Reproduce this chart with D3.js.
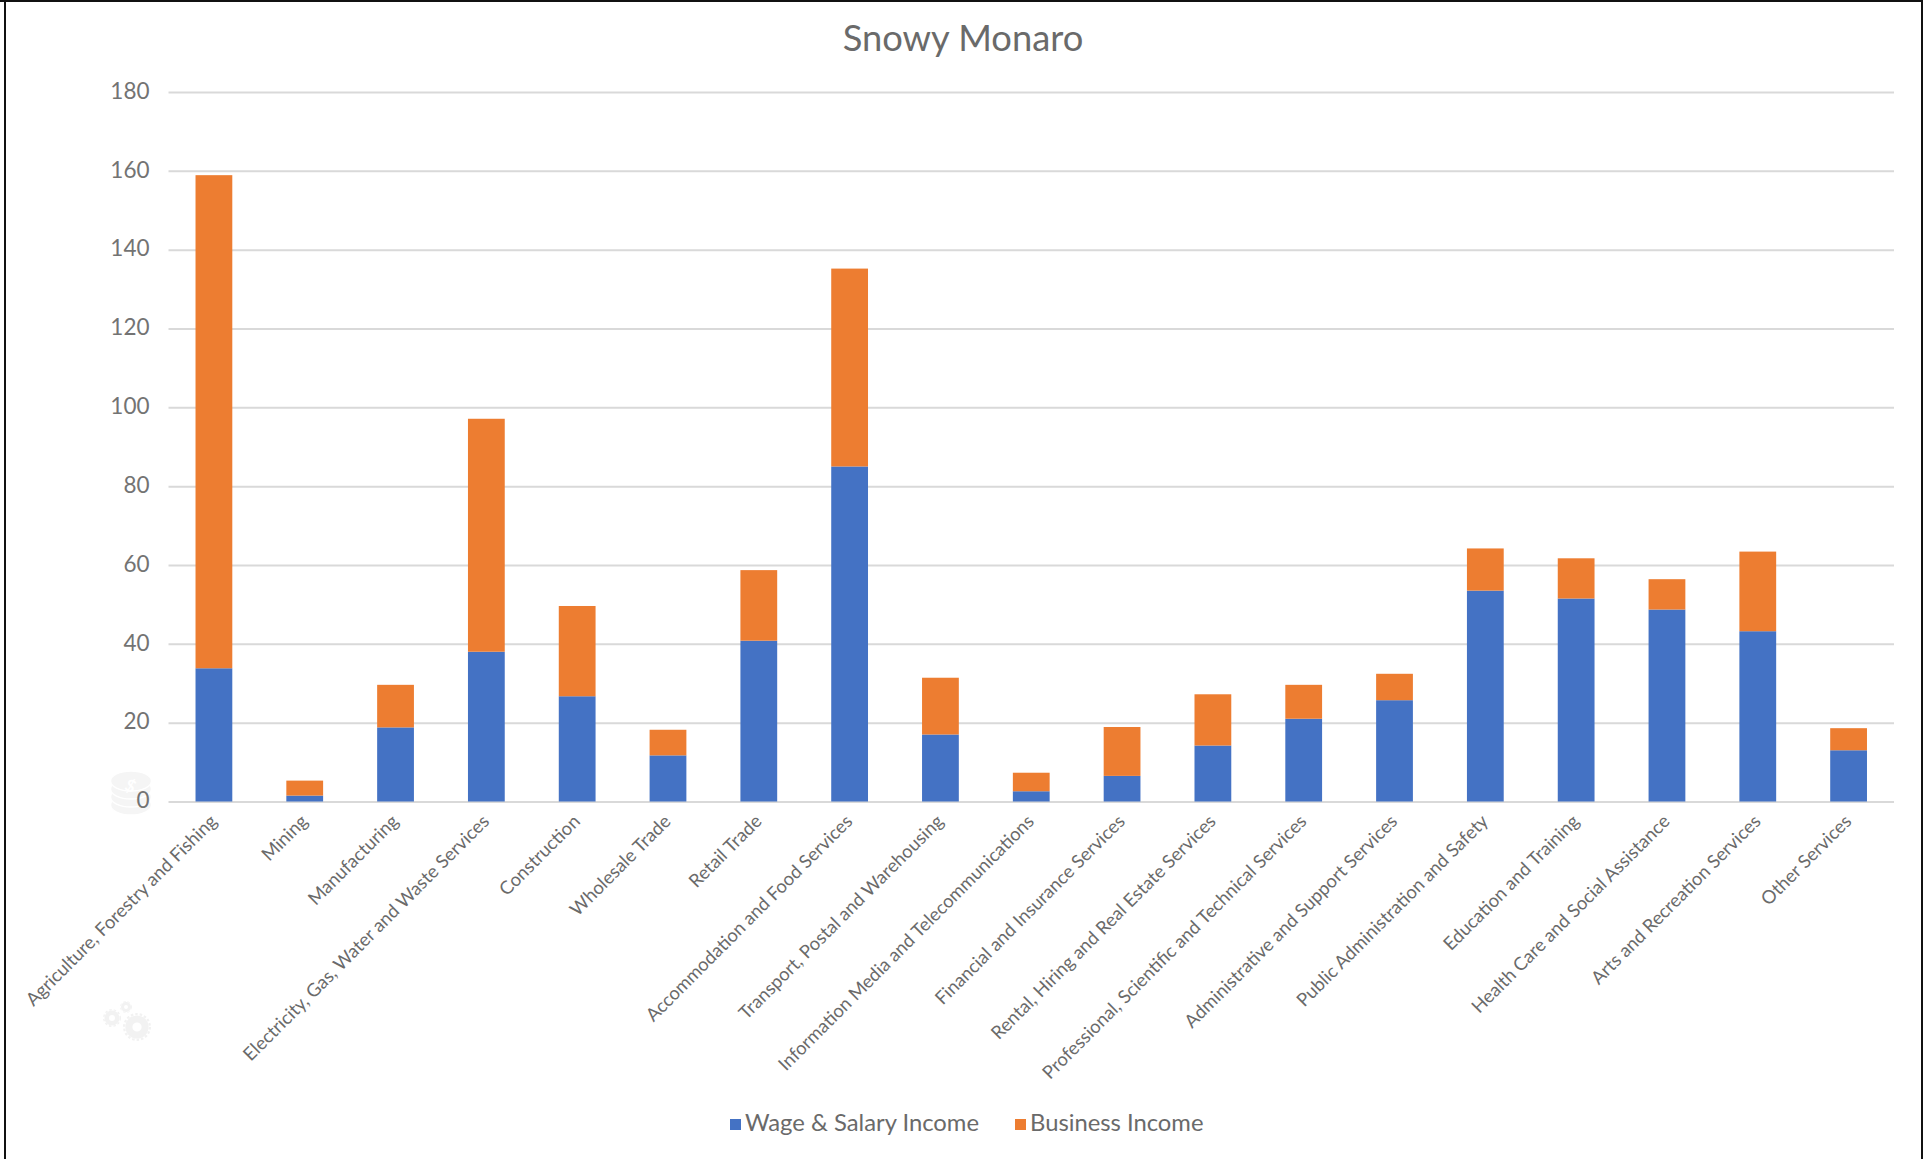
<!DOCTYPE html>
<html><head><meta charset="utf-8"><script src="https://cdn.jsdelivr.net/npm/d3@7"></script>
<style>html,body{margin:0;padding:0;background:#fff}svg{display:block}text{font-family:Lato,"Open Sans",sans-serif;fill:#6a6a6a}</style></head>
<body><svg id="c" width="1923" height="1159"></svg>
<script>
const chartTitle = "Snowy Monaro";
const categories = ["Agriculture, Forestry and Fishing","Mining","Manufacturing","Electricity, Gas, Water and Waste Services","Construction","Wholesale Trade","Retail Trade","Accommodation and Food Services","Transport, Postal and Warehousing","Information Media and Telecommunications","Financial and Insurance Services","Rental, Hiring and Real Estate Services","Professional, Scientific and Technical Services","Administrative and Support Services","Public Administration and Safety","Education and Training","Health Care and Social Assistance","Arts and Recreation Services","Other Services"];
const wageSalary = [33.8,1.5,18.8,38,26.7,11.7,40.8,85,17,2.6,6.5,14.2,21,25.7,53.5,51.5,48.7,43.2,13];
const business = [125.1,3.8,10.8,59.1,22.9,6.5,17.9,50.2,14.4,4.7,12.4,13,8.6,6.7,10.7,10.2,7.7,20.2,5.6];
const seriesNames = ["Wage & Salary Income","Business Income"];
const seriesColors = ["#4472C4","#ED7D31"];
const yTicks = [0,20,40,60,80,100,120,140,160,180];

const svg = d3.select("#c");
const L=168.5,R=1894,T=92,B=801.5;
const x = d3.scaleBand().domain(categories).range([L,R]).paddingInner(0.595).paddingOuter(0.2975);
const y = d3.scaleLinear().domain([0,180]).range([B,T]);

// frame
svg.append("rect").attr("x",0).attr("y",0).attr("width",1923).attr("height",2).attr("fill","#111");
svg.append("rect").attr("x",4).attr("y",0).attr("width",2).attr("height",1159).attr("fill","#111");
svg.append("rect").attr("x",1921).attr("y",0).attr("width",2).attr("height",1159).attr("fill","#111");

// faint decorative icons behind the axis
const wm = svg.append("g");
d3.range(4).forEach(i=>wm.append("ellipse").attr("cx",131).attr("cy",805-i*8).attr("rx",20.5).attr("ry",10).attr("fill","#f5f5f5").attr("stroke","#fff").attr("stroke-width",1.5));
wm.append("text").attr("x",131).attr("y",792).attr("text-anchor","middle").attr("transform","rotate(25 131 785)")
  .style("font-size","17px").style("font-weight","700").style("fill","#fff").text("$");
const gear=(cx,cy,r)=>{const g=wm.append("g");
  g.append("circle").attr("cx",cx).attr("cy",cy).attr("r",r*0.58).attr("fill","none").attr("stroke","#f2f2f2").attr("stroke-width",r*0.5);
  g.append("circle").attr("cx",cx).attr("cy",cy).attr("r",r*0.92).attr("fill","none").attr("stroke","#f2f2f2").attr("stroke-width",r*0.16).attr("stroke-dasharray","2.5 2");};
gear(137,1027,14);gear(112,1018,9);gear(126,1007,6);

// grid and y axis
const yAxis = d3.axisLeft(y).tickValues(yTicks).tickSize(-(R-L)).tickPadding(19);
const gy = svg.append("g").attr("transform",`translate(${L},0)`).call(yAxis);
gy.select(".domain").remove();
gy.selectAll("line").attr("stroke","#d9d9d9").attr("stroke-width",2);
gy.selectAll("text").attr("dy","0.28em").style("font-size","22.5px").style("fill","#737373");

// bars
const rows = categories.map((c,i)=>({c,wage:wageSalary[i],biz:business[i]}));
const stacked = d3.stack().keys(["wage","biz"])(rows);
svg.selectAll("g.s").data(stacked).join("g").attr("class","s").attr("fill",(d,i)=>seriesColors[i])
  .selectAll("rect").data(d=>d).join("rect")
  .attr("x",d=>x(d.data.c)).attr("width",x.bandwidth())
  .attr("y",d=>y(d[1])).attr("height",d=>y(d[0])-y(d[1]));

// x labels
const xAxis = d3.axisBottom(x).tickSize(0).tickPadding(0);
const gx = svg.append("g").attr("transform",`translate(0,${B})`).call(xAxis);
gx.select(".domain").remove();
gx.selectAll("text").attr("text-anchor","end").attr("dy",0).attr("y",0).attr("x",0)
  .attr("transform","translate(4,21) rotate(-45)").style("font-size","18.4px");

// title
svg.append("text").attr("x",963).attr("y",51).attr("text-anchor","middle").style("font-size","36.3px").text(chartTitle);

// legend
const lx=[730,1015], ty=1131;
seriesNames.forEach((n,i)=>{
  svg.append("rect").attr("x",lx[i]).attr("y",1119).attr("width",11).attr("height",11).attr("fill",seriesColors[i]);
  svg.append("text").attr("x",lx[i]+15).attr("y",ty).style("font-size","23.8px").text(n);
});
</script></body></html>
